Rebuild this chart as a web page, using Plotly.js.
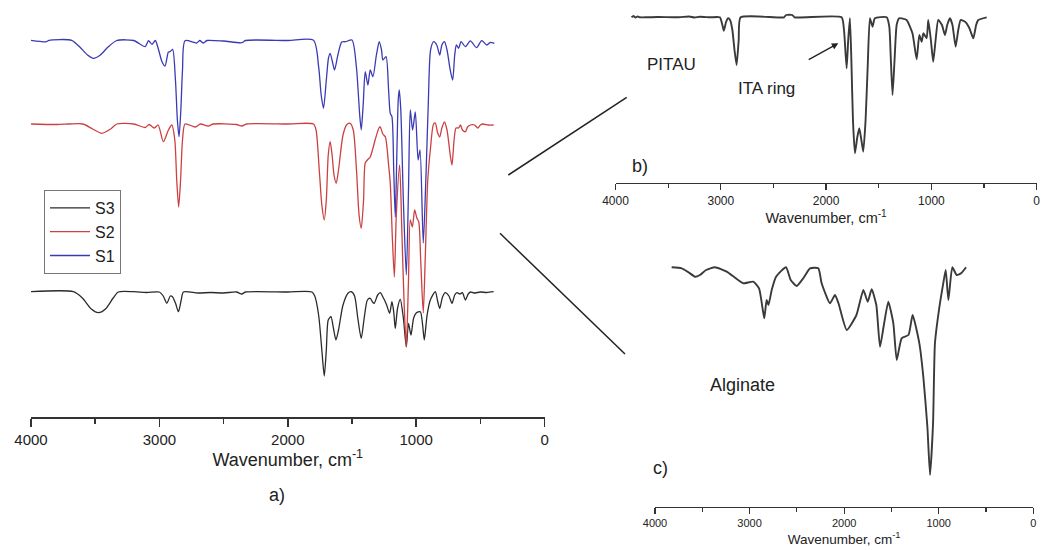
<!DOCTYPE html>
<html>
<head>
<meta charset="utf-8">
<script src="https://cdn.plot.ly/plotly-3.0.1.min.js"></script>
<style>html,body{margin:0;padding:0;background:#fff;}#chart{width:1049px;height:550px;}</style>
</head>
<body>
<div id="chart"></div>
<script>
// ---------- Panel a: S1, S2, S3 (wavenumber cm-1, relative transmittance, baseline 100) ----------
var s3Wn = [4000,3670,3600,3530,3475,3420,3360,3320,3200,3100,3000,2970,2942,2915,2900,2875,2852,2830,2813,2700,2600,2500,2400,2358,2330,2000,1812,1790,1760,1735,1716,1700,1685,1664,1645,1625,1605,1570,1530,1506,1480,1455,1428,1405,1380,1358,1340,1327,1300,1280,1255,1230,1207,1189,1175,1163,1145,1124,1100,1077,1060,1041,1020,1000,968,950,937,915,890,851,835,817,795,773,745,721,700,682,660,640,617,595,578,550,500,450,397];
var s3T  = [100,100,93.7,82.7,79,82.7,93.7,99.7,100,99.2,99.7,95.7,88.4,95.7,95.2,88.7,80,91.7,99.7,98.7,99.2,98.7,99.7,97.7,99.7,99.7,99.7,95.7,76.7,41.7,15.7,41.7,71.7,75,63.7,51.7,61.7,86.7,98.7,100,95.7,73.7,53.4,73.7,91.7,93.4,89.7,88.4,96.7,99,93.7,86.7,78.4,90,79.7,63.4,83.7,92.4,73.7,45,68.4,56.7,73.7,78.7,80,66.7,51.7,76.7,91.7,100,91.7,83.4,94.7,99,95.7,88.4,96.7,99,97.7,99,91.7,97.7,99.7,98.7,99.7,99.2,100];

var s2Wn = [4000,3800,3700,3595,3520,3449,3380,3332,3200,3110,3080,3040,3010,2969,2930,2903,2880,2865,2850,2835,2820,2800,2720,2680,2620,2580,2400,2358,2320,2000,1800,1780,1755,1735,1716,1700,1685,1670,1655,1640,1623,1605,1570,1540,1514,1490,1465,1445,1428,1410,1397,1380,1358,1320,1290,1280,1260,1240,1215,1202,1185,1170,1155,1129,1112,1095,1077,1060,1046,1030,1012,995,980,965,945,930,910,890,865,851,835,817,800,780,760,735,721,705,690,670,655,640,617,600,578,545,520,500,480,440,397];
var s2T  = [100,99.5,100,100,95,90.7,95,100,100,96.5,99.5,96,99,82.3,94,99,84,44,17,44,84,100,97,100,98,100,99.5,98,100,100,100,94,54,19,4,24,69,82.3,69,49,40.7,54,89,99.5,100.7,94,54,9,-4.3,24,61,64,67,84,96,97,90,87,59,41,-16,-53,9,59,-6,-76,-123,-56,4,-3,14,6,2,-36,-89,-36,44,74,100,101,92,87,96,102,94,69,59,84,96,96,99,94,92.3,97,99,99,96,99,100,99,99];

var s1Wn = [4000,3880,3860,3683,3620,3560,3514,3460,3400,3332,3200,3111,3085,3058,3032,3006,2980,2956,2930,2917,2897,2875,2860,2847,2833,2820,2800,2710,2685,2660,2630,2500,2358,2330,2000,1800,1760,1740,1722,1700,1683,1670,1652,1636,1610,1580,1550,1500,1466,1440,1428,1413,1397,1376,1358,1337,1310,1288,1270,1259,1235,1215,1202,1189,1175,1163,1150,1140,1132,1120,1100,1077,1060,1046,1028,1007,985,970,945,925,905,888,864,840,817,800,780,760,735,716,700,687,670,650,617,578,530,490,450,424,391];
var s1T  = [100,98.6,100,100,93.3,85.3,82,85.3,93.3,99.8,99.8,93.6,99.6,96,99.8,90.3,78.6,74.3,88.3,88.6,91,60.3,20.3,3.6,30.3,70.3,99.6,97.3,99.8,97.3,99.8,99.3,97.6,99.8,99.8,100,73.6,45.3,32,60.3,82.3,87,78.3,70.3,85.3,98.3,98.6,100.3,73.6,25.3,10.3,35.3,68.6,55.3,70.3,63.6,85.3,98.6,90.3,80.3,83.6,50.3,27,23.6,-29.7,-76.7,-9.7,40.3,50.3,30.3,-59.7,-134.7,-49.7,30.3,10.3,28.3,-19.7,-9.7,-102.7,-39.7,40.3,90.3,98.6,95.3,85.3,95.3,98.6,90.3,70.3,60.3,85.3,95.3,92,98.6,93.6,99.5,92.6,99.6,95.3,97.8,97];

// ---------- Panel b: PITAU ----------
var pitauWn = [3848,3830,3810,3790,3770,3700,3600,3400,3300,3250,3200,3100,3009,2985,2971,2950,2930,2912,2890,2870,2850,2830,2812,2400,2380,2320,2300,1853,1830,1805,1790,1774,1760,1745,1726,1705,1685,1665,1647,1625,1605,1584,1559,1537,1425,1400,1385,1369,1350,1330,1306,1236,1180,1140,1115,1092,1076,1045,1030,1005,983,960,935,900,871,850,824,800,770,745,722,680,640,602,575,555,475];
var pitauT  = [100,101.3,99.8,100.8,100,100,100.3,100,100.8,99.8,100.5,100,100,92.3,86.6,95.3,99,97.3,87.3,67.3,52.3,77.3,100,100,102.3,102.3,100,100,87.3,49,77.3,99,57.3,-2.7,-36,-20.7,-11,-22.7,-34.4,-2.7,50.6,99,90.6,99,100,90.6,57.3,22.3,57.3,92.3,99,97.3,84,58,82.3,75.6,84,79,97.3,77.3,55.6,77.3,97.3,92.3,82.3,92.3,99,92.3,70.6,87.3,97.3,95.6,89.3,79,92.3,97.3,100];

// ---------- Panel c: Alginate ----------
var algWn = [3824,3718,3650,3577,3525,3460,3366,3242,3150,3066,2961,2900,2860,2844,2820,2800,2766,2720,2615,2565,2502,2430,2361,2273,2238,2150,2097,2060,1973,1870,1797,1751,1709,1660,1621,1580,1533,1480,1444,1392,1320,1276,1205,1163,1120,1092,1060,1040,995,952,926,898,856,810,760,711];
var algT  = [100,99,95.3,90.6,92.3,97.3,100,95.6,89.3,84,85.6,79,57.3,49,67.3,62.3,77.3,90.6,100,87.3,81.3,89.3,99,99,84,64,72.3,64,37.3,52.3,77.3,65.6,78,62.3,20.6,42.3,65.6,44,7.3,29,32.3,52.3,24,-9.4,-59.4,-107.7,-56,24,59,84,97.3,67.3,100,92.3,94.3,100];

var seriesNames = ['S3','S2','S1'];
var tickVals = [4000,3000,2000,1000,0];
var tickText = ['4000','3000','2000','1000','0'];

// ---------- presentation ----------
var W = 1049, H = 550;
function px(x){return x/W;}
function py(y){return 1 - y/H;}
var offsets = {S3:25.3, S2:193, S1:276.7};
var colors = {S3:'#2a2a2a', S2:'#cc4040', S1:'#3a3ab4'};
function shift(arr, o){return arr.map(function(v){return v + o;});}
var FONT = 'Liberation Sans, Arial, sans-serif';

var dataA = [[s3Wn,s3T],[s2Wn,s2T],[s1Wn,s1T]];
var traces = [];
seriesNames.forEach(function(n,i){
  traces.push({x:dataA[i][0], y:shift(dataA[i][1], offsets[n]), name:n, type:'scatter', mode:'lines',
    line:{color:colors[n], width:1.3, shape:'spline', smoothing:0.7}, xaxis:'x', yaxis:'y', hoverinfo:'skip'});
});
traces.push({x:pitauWn, y:shift(pitauT,65.7), name:'PITAU', type:'scatter', mode:'lines', showlegend:false,
  line:{color:'#3a3a3a', width:1.9, shape:'spline', smoothing:0.5}, xaxis:'x2', yaxis:'y2'});
traces.push({x:algWn, y:shift(algT,139.4), name:'Alginate', type:'scatter', mode:'lines', showlegend:false,
  line:{color:'#3a3a3a', width:1.9, shape:'spline', smoothing:0.5}, xaxis:'x3', yaxis:'y3'});

function xax(domain, anchor, tickFont, titleFont, ticklen, standoff, lw){
  return {domain:domain, anchor:anchor, range:[4000,0], showgrid:false, zeroline:false, showline:true, linecolor:'#333', linewidth:lw,
    ticks:'outside', ticklen:ticklen, tickwidth:lw, tickcolor:'#333', tickmode:'array', tickvals:tickVals, ticktext:tickText,
    minor:{tickmode:'linear', tick0:0, dtick:500, ticks:'outside', ticklen:Math.round(ticklen*0.6), tickwidth:lw, tickcolor:'#333'},
    tickfont:{family:FONT, size:tickFont, color:'#222'},
    title:{text:'Wavenumber, cm<sup>-1</sup>', font:{family:FONT, size:titleFont, color:'#222'}, standoff:standoff},
    automargin:false, fixedrange:true};
}
function yax(domain, anchor, range){
  return {domain:domain, anchor:anchor, range:range, visible:false, showgrid:false, zeroline:false, fixedrange:true};
}

var layout = {
  width:W, height:H, margin:{l:0,r:0,t:0,b:0}, paper_bgcolor:'#fff', plot_bgcolor:'rgba(0,0,0,0)',
  font:{family:FONT, color:'#222'}, hovermode:false,
  xaxis: xax([px(31),px(544.6)], 'y', 15, 18, 8, 6, 1.5),
  yaxis: yax([py(417),py(10)], 'x', [0,407]),
  xaxis2: xax([px(615.5),px(1036.7)], 'y2', 12, 14.5, 6, 5, 1.2),
  yaxis2: yax([py(183),py(5)], 'x2', [0,178]),
  xaxis3: xax([px(655),px(1033.3)], 'y3', 11, 13.5, 6, 6, 1.2),
  yaxis3: yax([py(506.7),py(255)], 'x3', [0,251.7]),
  showlegend:true,
  legend:{x:px(44), y:py(190), xanchor:'left', yanchor:'top', bgcolor:'#fff', bordercolor:'#777', borderwidth:1,
    font:{family:FONT, size:16, color:'#222'}, traceorder:'normal', itemwidth:40, tracegroupgap:0},
  shapes:[
    {type:'line', xref:'paper', yref:'paper', x0:px(508.3), y0:py(175), x1:px(626.7), y1:py(97.3), line:{color:'#222', width:1.5}},
    {type:'line', xref:'paper', yref:'paper', x0:px(500), y0:py(233.3), x1:px(625), y1:py(354), line:{color:'#222', width:1.5}}
  ],
  annotations:[
    {text:'a)', xref:'paper', yref:'paper', x:px(266.7), y:py(506.7), showarrow:false, font:{family:FONT,size:18,color:'#222'}},
    {text:'b)', xref:'paper', yref:'paper', x:px(640), y:py(154), showarrow:false, font:{family:FONT,size:18,color:'#222'}},
    {text:'PITAU', xref:'paper', yref:'paper', x:px(671.7), y:py(53.3), showarrow:false, font:{family:FONT,size:17,color:'#222'}},
    {text:'ITA ring', xref:'paper', yref:'paper', x:px(796.7), y:py(76.7), showarrow:false, font:{family:FONT,size:17,color:'#222'}},
    {text:' ', xref:'paper', yref:'paper', x:px(838.3), y:py(43.3), showarrow:true, axref:'pixel', ayref:'pixel', ax:-31.6, ay:17.4,
      arrowhead:2, arrowsize:1, arrowwidth:1.3, arrowcolor:'#222', standoff:0, font:{size:2}},
    {text:'c)', xref:'paper', yref:'paper', x:px(660), y:py(480), showarrow:false, font:{family:FONT,size:18,color:'#222'}},
    {text:'Alginate', xref:'paper', yref:'paper', x:px(776.7), y:py(396.7), showarrow:false, font:{family:FONT,size:18,color:'#222'}}
  ]
};

Plotly.newPlot('chart', traces, layout, {staticPlot:true, displayModeBar:false});
</script>
</body>
</html>
